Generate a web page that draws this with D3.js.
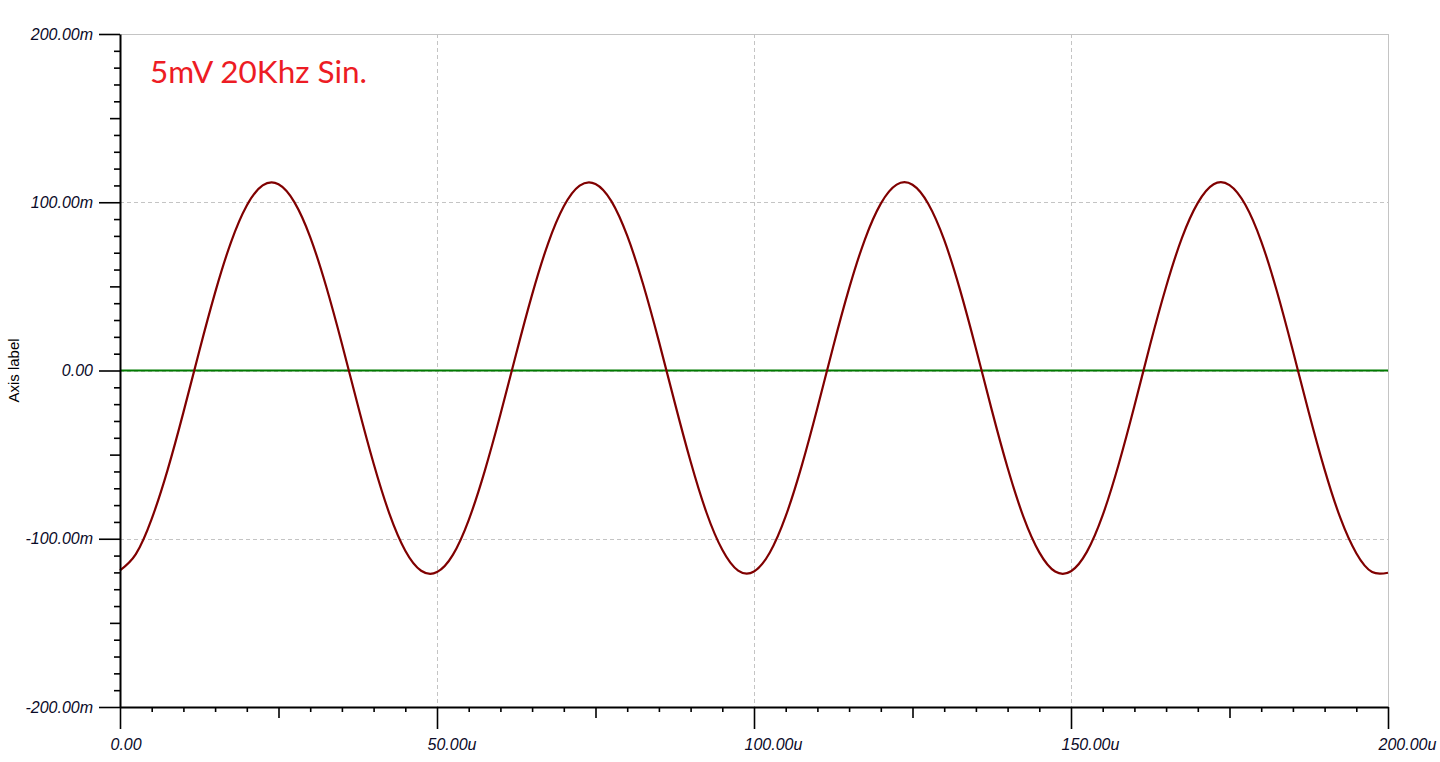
<!DOCTYPE html>
<html>
<head>
<meta charset="utf-8">
<script src="https://cdn.jsdelivr.net/npm/d3@7"></script>
<style>
  html, body { margin: 0; padding: 0; background: #ffffff; }
  svg { display: block; }
</style>
</head>
<body>
<svg id="chart" width="1440" height="762"></svg>
<script>
// ---- data ----
const titleText = "5mV 20Khz Sin.";
const yAxisTitle = "Axis label";

// time in microseconds
const times = [
  0, 2.5, 5, 7.5, 10, 12.5, 15, 17.5, 20, 22.5, 25, 27.5, 30, 32.5, 35, 37.5, 40, 42.5, 45, 47.5,
  50, 52.5, 55, 57.5, 60, 62.5, 65, 67.5, 70, 72.5, 75, 77.5, 80, 82.5, 85, 87.5, 90, 92.5, 95, 97.5,
  100, 102.5, 105, 107.5, 110, 112.5, 115, 117.5, 120, 122.5, 125, 127.5, 130, 132.5, 135, 137.5, 140, 142.5, 145, 147.5,
  150, 152.5, 155, 157.5, 160, 162.5, 165, 167.5, 170, 172.5, 175, 177.5, 180, 182.5, 185, 187.5, 190, 192.5, 195, 197.5,
  200
];

// signal in millivolts (dark red trace)
const signalValues = [
  -118.8, -109.1, -88.2, -59.2, -24.9, 11.5, 46.3, 76.2, 98.1, 110.0, 110.7, 100.1, 79.3, 50.2, 15.9, -20.5, -55.3, -85.2, -107.1, -119.0,
  -119.8, -109.6, -88.9, -60.1, -26.2, 10.1, 45.1, 75.3, 97.6, 109.9, 110.9, 100.7, 80.1, 51.4, 17.3, -19.1, -54.1, -84.4, -106.6, -119.0,
  -119.5, -108.2, -86.6, -57.0, -22.3, 14.3, 48.8, 78.0, 99.2, 110.5, 110.4, 99.0, 77.6, 47.9, 13.1, -23.4, -57.8, -87.0, -108.1, -119.5,
  -119.3, -107.8, -86.0, -56.0, -21.1, 15.6, 49.8, 78.8, 99.6, 110.7, 110.2, 98.5, 76.8, 46.8, 11.7, -24.8, -58.9, -87.8, -108.6, -119.8,
  -120.2
];

// flat green trace
const baseTimes = [0, 200];
const baseValues = [0, 0];

// axis ticks
const xMajorTicks = [0, 50, 100, 150, 200];
const xMajorLabels = ["0.00", "50.00u", "100.00u", "150.00u", "200.00u"];
const xMediumTicks = [25, 75, 125, 175];
const yMajorTicks = [-200, -100, 0, 100, 200];
const yMajorLabels = ["-200.00m", "-100.00m", "0.00", "100.00m", "200.00m"];
const yMediumTicks = [-150, -50, 50, 150];
const xGridTicks = [50, 100, 150];
const yGridTicks = [-100, 0, 100];

// ---- layout ----
const plotLeft = 120, plotRight = 1388, plotTop = 34, plotBottom = 707;
const svg = d3.select("#chart");

const x = d3.scaleLinear().domain([0, 200]).range([plotLeft, plotRight]);
const y = d3.scaleLinear().domain([-200, 200]).range([plotBottom, plotTop]);

const xMinorTicks = d3.range(0, 201, 5).filter(v => !xMajorTicks.includes(v) && !xMediumTicks.includes(v));
const yMinorTicks = d3.range(-200, 201, 10).filter(v => !yMajorTicks.includes(v) && !yMediumTicks.includes(v));

// grid
const grid = svg.append("g");
grid.selectAll("line.gx").data(xGridTicks).join("line")
  .attr("x1", d => Math.round(x(d)) + 0.5).attr("x2", d => Math.round(x(d)) + 0.5)
  .attr("y1", plotTop).attr("y2", plotBottom)
  .attr("stroke", "#c4c4c4").attr("stroke-dasharray", "4,3");
grid.selectAll("line.gy").data(yGridTicks).join("line")
  .attr("y1", d => Math.round(y(d)) + 0.5).attr("y2", d => Math.round(y(d)) + 0.5)
  .attr("x1", plotLeft).attr("x2", plotRight)
  .attr("stroke", "#c4c4c4").attr("stroke-dasharray", "4,3");
// top & right frame
grid.append("line").attr("x1", plotLeft).attr("x2", plotRight + 0.5)
  .attr("y1", Math.round(y(200)) + 0.5).attr("y2", Math.round(y(200)) + 0.5).attr("stroke", "#c4c4c4");
grid.append("line").attr("x1", Math.round(x(200)) + 0.5).attr("x2", Math.round(x(200)) + 0.5)
  .attr("y1", plotTop).attr("y2", plotBottom).attr("stroke", "#c4c4c4");

// traces
const baseLine = d3.line().x((d, i) => x(baseTimes[i])).y(d => y(d));
svg.append("path").datum(baseValues)
  .attr("d", baseLine).attr("fill", "none").attr("stroke", "#007a00").attr("stroke-width", 2);

const sigLine = d3.line().x((d, i) => x(times[i])).y(d => y(d)).curve(d3.curveNatural);
svg.append("path").datum(signalValues)
  .attr("d", sigLine).attr("fill", "none").attr("stroke", "#800000").attr("stroke-width", 2.2);

// axes
const tickFont = "'Liberation Sans', Arial, sans-serif";
function styleAxis(g, w) {
  g.selectAll("path.domain").attr("stroke", "#000").attr("stroke-width", w);
  g.selectAll(".tick line").attr("stroke", "#000").attr("stroke-width", 1.6);
}

// y minor / medium
const yMinor = svg.append("g").attr("transform", `translate(${plotLeft},0)`)
  .call(d3.axisLeft(y).tickValues(yMinorTicks).tickSize(6).tickSizeOuter(0).tickFormat(""));
yMinor.select("path.domain").remove();
styleAxis(yMinor, 0);
const yMed = svg.append("g").attr("transform", `translate(${plotLeft},0)`)
  .call(d3.axisLeft(y).tickValues(yMediumTicks).tickSize(10).tickSizeOuter(0).tickFormat(""));
yMed.select("path.domain").remove();
styleAxis(yMed, 0);
// x minor / medium
const xMinor = svg.append("g").attr("transform", `translate(0,${plotBottom})`)
  .call(d3.axisBottom(x).tickValues(xMinorTicks).tickSize(5).tickSizeOuter(0).tickFormat(""));
xMinor.select("path.domain").remove();
styleAxis(xMinor, 0);
const xMed = svg.append("g").attr("transform", `translate(0,${plotBottom})`)
  .call(d3.axisBottom(x).tickValues(xMediumTicks).tickSize(11).tickSizeOuter(0).tickFormat(""));
xMed.select("path.domain").remove();
styleAxis(xMed, 0);

// y major
const yAxis = svg.append("g").attr("transform", `translate(${plotLeft},0)`)
  .call(d3.axisLeft(y).tickValues(yMajorTicks).tickSize(21).tickSizeOuter(0).tickPadding(6)
    .tickFormat((d, i) => yMajorLabels[i]));
styleAxis(yAxis, 2);
yAxis.selectAll("text")
  .attr("font-family", tickFont).attr("font-style", "italic").attr("font-size", 16)
  .attr("fill", "#0a0a28");

// x major
const xAxis = svg.append("g").attr("transform", `translate(0,${plotBottom})`)
  .call(d3.axisBottom(x).tickValues(xMajorTicks).tickSize(22).tickSizeOuter(0)
    .tickFormat((d, i) => xMajorLabels[i]));
styleAxis(xAxis, 2);
xAxis.selectAll("text")
  .attr("font-family", tickFont).attr("font-style", "italic").attr("font-size", 16)
  .attr("fill", "#0a0a28")
  .attr("text-anchor", "start").attr("x", -10).attr("y", 43).attr("dy", 0);

// y axis title
svg.append("text")
  .attr("transform", `translate(19,${y(0)}) rotate(-90)`)
  .attr("text-anchor", "middle")
  .attr("font-family", tickFont).attr("font-size", 15).attr("fill", "#000")
  .text(yAxisTitle);

// chart annotation title
svg.append("text")
  .attr("x", 150).attr("y", 83)
  .attr("font-family", "Lato, 'Open Sans', sans-serif").attr("font-size", 31)
  .attr("fill", "#ed1c24")
  .attr("textLength", 217).attr("lengthAdjust", "spacingAndGlyphs")
  .text(titleText);
</script>
</body>
</html>
